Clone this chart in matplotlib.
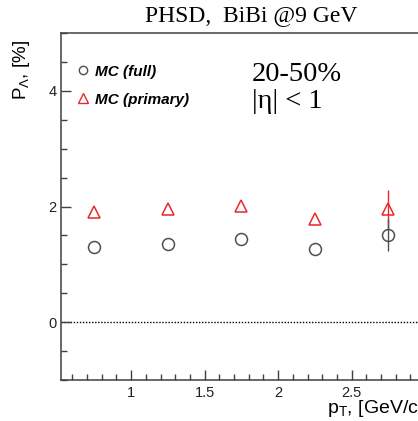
import matplotlib.pyplot as plt
from matplotlib.lines import Line2D
from matplotlib.ticker import MultipleLocator

# Data
pt = [0.75, 1.25, 1.75, 2.25, 2.75]
pol_full = [1.30, 1.35, 1.44, 1.27, 1.51]
err_full = [0.0, 0.0, 0.0, 0.0, 0.28]
pol_primary = [1.90, 1.96, 2.015, 1.79, 1.96]
err_primary = [0.0, 0.0, 0.0, 0.0, 0.33]

sans = "Liberation Sans"
serif = "Liberation Serif"
grey = "#404040"
red = "#e8282c"

plt.rcParams["mathtext.fontset"] = "custom"
plt.rcParams["mathtext.rm"] = sans
plt.rcParams["mathtext.it"] = sans + ":italic"

fig = plt.figure(figsize=(4.18, 4.21), dpi=100)
fig.patch.set_facecolor("white")
# axes runs off the right edge, like the cropped original
ax = fig.add_axes([0.145, 0.0974, 0.872, 0.8242])

ax.axhline(0, color="black", lw=1.0, ls=(0, (1, 1.2)), zorder=1)

ax.errorbar(pt, pol_primary, yerr=err_primary, fmt="^", ms=9, mfc="none",
            mec=red, mew=1.1, ecolor=red, elinewidth=1.0, capsize=0, zorder=3)
ax.errorbar(pt, pol_full, yerr=err_full, fmt="o", ms=8.6, mfc="none",
            mec="#505050", mew=1.1, ecolor="#505050", elinewidth=1.0,
            capsize=0, zorder=4)

ax.set_xlim(0.52, 3.0)
ax.set_ylim(-1, 5)
ax.xaxis.set_major_locator(MultipleLocator(0.5))
ax.xaxis.set_minor_locator(MultipleLocator(0.1))
ax.yaxis.set_major_locator(MultipleLocator(2))
ax.yaxis.set_minor_locator(MultipleLocator(0.5))
ax.set_xticks([1, 1.5, 2, 2.5])
ax.set_xticklabels(["1", "1.5", "2", "2.5"])

ax.tick_params(which="both", direction="in", color=grey, width=1.0,
               labelsize=10.5, labelcolor="#222222")
ax.tick_params(which="major", length=7.5)
ax.tick_params(which="minor", length=4)
ax.tick_params(axis="x", pad=4)
ax.tick_params(axis="y", pad=3)
for lab in ax.get_xticklabels() + ax.get_yticklabels():
    lab.set_family(sans)

for s in ["left", "bottom", "top"]:
    ax.spines[s].set_color(grey)
    ax.spines[s].set_linewidth(1.1)
ax.spines["right"].set_visible(False)

# legend
handles = [
    Line2D([], [], ls="none", marker="o", ms=6, mfc="none", mec="#505050", mew=1.0),
    Line2D([], [], ls="none", marker="^", ms=6.5, mfc="none", mec=red, mew=1.0),
]
leg = fig.legend(handles, ["MC (full)", "MC (primary)"], loc="upper left",
                 bbox_to_anchor=(69 / 418, 1 - 57 / 421), frameon=False,
                 borderpad=0, handlelength=0.8, handletextpad=0.4,
                 labelspacing=0.92,
                 prop={"family": sans, "weight": "bold", "style": "italic", "size": 11})

fig.text(252 / 418, 1 - 81 / 421, "20-50%", family=serif, fontsize=20.5,
         ha="left", va="baseline")
fig.text(252 / 418, 1 - 108 / 421, "|η| < 1", family=serif, fontsize=20.5,
         ha="left", va="baseline")

fig.text(251 / 418, 1 - 20.7 / 421, "PHSD,  BiBi @9 GeV", family=serif,
         fontsize=17, ha="center", va="baseline")

fig.text(22 / 418, 1 - 40 / 421, r"P$_{\Lambda}$, [%]", family=sans, fontsize=13.5,
         rotation=90, ha="center", va="top")
fig.text(327 / 418, 1 - 413 / 421, r"p$_{\mathrm{T}}$, [GeV/c]", family=sans,
         fontsize=14, ha="left", va="baseline")

fig.savefig("out.png", dpi=100)
